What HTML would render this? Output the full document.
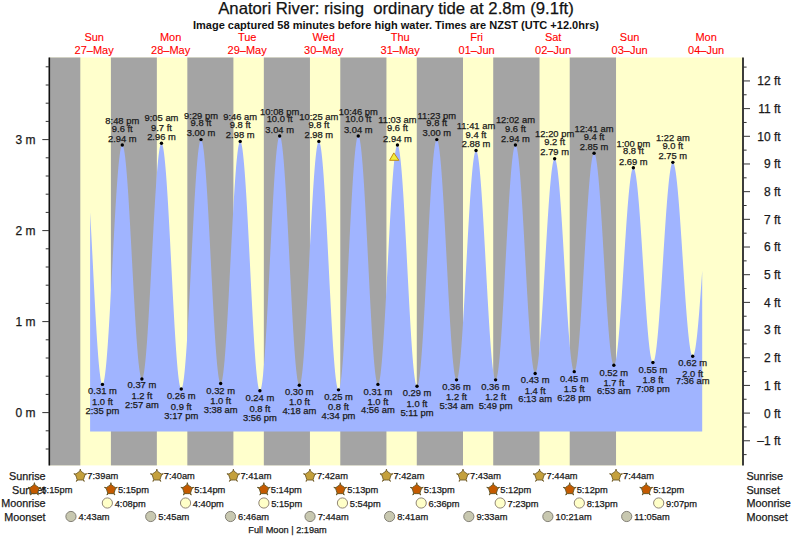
<!DOCTYPE html>
<html><head><meta charset="utf-8"><style>
html,body{margin:0;padding:0;background:#fff;width:793px;height:539px;overflow:hidden}
svg{display:block}
text{font-family:"Liberation Sans",sans-serif;fill:#1a1a1a;stroke:#1a1a1a;stroke-width:0.25px}
.day{stroke:#f00;stroke-width:0.1px}
.tl{font-size:9.4px;text-anchor:middle}
.ax{font-size:12px}
.day{font-size:11px;fill:#f00;text-anchor:middle}
.title{white-space:pre;font-size:16.72px;text-anchor:middle;fill:#111}
.sub{font-size:11px;font-weight:bold;text-anchor:middle;fill:#111;stroke-width:0}
.rl{font-size:10.8px}
.ti{font-size:9.3px}
</style></head><body>
<svg width="793" height="539" viewBox="0 0 793 539">
<rect x="49.3" y="57.5" width="693.7" height="407.9" fill="#ffffcc"/>
<rect x="49.30" y="57.5" width="31.00" height="407.9" fill="#a4a4a4"/>
<rect x="110.90" y="57.5" width="45.95" height="407.9" fill="#a4a4a4"/>
<rect x="187.34" y="57.5" width="46.06" height="407.9" fill="#a4a4a4"/>
<rect x="263.84" y="57.5" width="46.11" height="407.9" fill="#a4a4a4"/>
<rect x="340.28" y="57.5" width="46.16" height="407.9" fill="#a4a4a4"/>
<rect x="416.78" y="57.5" width="46.22" height="407.9" fill="#a4a4a4"/>
<rect x="493.22" y="57.5" width="46.32" height="407.9" fill="#a4a4a4"/>
<rect x="569.71" y="57.5" width="46.32" height="407.9" fill="#a4a4a4"/>
<path d="M90.10,431.4 L90.10,212.33 L90.60,221.19 L91.10,230.36 L91.60,239.78 L92.10,249.38 L92.60,259.11 L93.10,268.88 L93.60,278.64 L94.10,288.31 L94.60,297.84 L95.10,307.15 L95.60,316.18 L96.10,324.87 L96.60,333.15 L97.10,340.98 L97.60,348.30 L98.10,355.05 L98.60,361.20 L99.10,366.69 L99.60,371.49 L100.10,375.58 L100.60,378.91 L101.10,381.47 L101.60,383.23 L102.10,384.20 L102.60,384.35 L103.10,383.75 L103.60,382.39 L104.10,380.30 L104.60,377.49 L105.10,373.96 L105.60,369.76 L106.10,364.89 L106.60,359.40 L107.10,353.31 L107.60,346.67 L108.10,339.51 L108.60,331.88 L109.10,323.84 L109.60,315.42 L110.10,306.69 L110.60,297.69 L111.10,288.48 L111.60,279.13 L112.10,269.68 L112.60,260.21 L113.10,250.76 L113.60,241.40 L114.10,232.19 L114.60,223.18 L115.10,214.43 L115.60,206.00 L116.10,197.93 L116.60,190.29 L117.10,183.11 L117.60,176.44 L118.10,170.33 L118.60,164.80 L119.10,159.91 L119.60,155.67 L120.10,152.11 L120.60,149.26 L121.10,147.14 L121.60,145.75 L122.10,145.11 L122.60,145.22 L123.10,146.07 L123.60,147.67 L124.10,150.00 L124.60,153.05 L125.10,156.79 L125.60,161.21 L126.10,166.28 L126.60,171.96 L127.10,178.21 L127.60,185.01 L128.10,192.29 L128.60,200.02 L129.10,208.15 L129.60,216.63 L130.10,225.39 L130.60,234.39 L131.10,243.57 L131.60,252.86 L132.10,262.21 L132.60,271.56 L133.10,280.85 L133.60,290.02 L134.10,299.01 L134.60,307.76 L135.10,316.22 L135.60,324.33 L136.10,332.05 L136.60,339.31 L137.10,346.08 L137.60,352.31 L138.10,357.96 L138.60,363.00 L139.10,367.38 L139.60,371.10 L140.10,374.11 L140.60,376.41 L141.10,377.98 L141.60,378.80 L142.10,378.87 L142.60,378.18 L143.10,376.74 L143.60,374.56 L144.10,371.65 L144.60,368.02 L145.10,363.70 L145.60,358.73 L146.10,353.12 L146.60,346.92 L147.10,340.17 L147.60,332.91 L148.10,325.19 L148.60,317.05 L149.10,308.55 L149.60,299.75 L150.10,290.70 L150.60,281.46 L151.10,272.08 L151.60,262.64 L152.10,253.19 L152.60,243.78 L153.10,234.49 L153.60,225.37 L154.10,216.48 L154.60,207.88 L155.10,199.61 L155.60,191.75 L156.10,184.33 L156.60,177.41 L157.10,171.02 L157.60,165.22 L158.10,160.03 L158.60,155.50 L159.10,151.64 L159.60,148.49 L160.10,146.06 L160.60,144.38 L161.10,143.44 L161.60,143.27 L162.10,143.86 L162.60,145.23 L163.10,147.36 L163.60,150.23 L164.10,153.84 L164.60,158.15 L165.10,163.14 L165.60,168.79 L166.10,175.04 L166.60,181.87 L167.10,189.23 L167.60,197.08 L168.10,205.36 L168.60,214.02 L169.10,223.01 L169.60,232.28 L170.10,241.75 L170.60,251.38 L171.10,261.10 L171.60,270.86 L172.10,280.58 L172.60,290.21 L173.10,299.69 L173.60,308.96 L174.10,317.96 L174.60,326.63 L175.10,334.92 L175.60,342.77 L176.10,350.15 L176.60,356.99 L177.10,363.26 L177.60,368.91 L178.10,373.92 L178.60,378.25 L179.10,381.88 L179.60,384.77 L180.10,386.91 L180.60,388.29 L181.10,388.91 L181.60,388.74 L182.10,387.79 L182.60,386.07 L183.10,383.57 L183.60,380.32 L184.10,376.35 L184.60,371.66 L185.10,366.30 L185.60,360.29 L186.10,353.68 L186.60,346.51 L187.10,338.82 L187.60,330.66 L188.10,322.08 L188.60,313.13 L189.10,303.88 L189.60,294.37 L190.10,284.68 L190.60,274.86 L191.10,264.97 L191.60,255.08 L192.10,245.25 L192.60,235.53 L193.10,226.00 L193.60,216.71 L194.10,207.72 L194.60,199.08 L195.10,190.86 L195.60,183.09 L196.10,175.84 L196.60,169.15 L197.10,163.06 L197.60,157.60 L198.10,152.82 L198.60,148.74 L199.10,145.38 L199.60,142.78 L200.10,140.94 L200.60,139.88 L201.10,139.61 L201.60,140.12 L202.10,141.40 L202.60,143.45 L203.10,146.27 L203.60,149.81 L204.10,154.08 L204.60,159.03 L205.10,164.64 L205.60,170.87 L206.10,177.69 L206.60,185.03 L207.10,192.87 L207.60,201.15 L208.10,209.82 L208.60,218.82 L209.10,228.09 L209.60,237.57 L210.10,247.21 L210.60,256.94 L211.10,266.70 L211.60,276.43 L212.10,286.06 L212.60,295.53 L213.10,304.79 L213.60,313.77 L214.10,322.41 L214.60,330.67 L215.10,338.48 L215.60,345.80 L216.10,352.58 L216.60,358.78 L217.10,364.35 L217.60,369.26 L218.10,373.49 L218.60,377.00 L219.10,379.76 L219.60,381.77 L220.10,383.01 L220.60,383.48 L221.10,383.16 L221.60,382.06 L222.10,380.20 L222.60,377.57 L223.10,374.21 L223.60,370.12 L224.10,365.34 L224.60,359.90 L225.10,353.83 L225.60,347.17 L226.10,339.97 L226.60,332.26 L227.10,324.11 L227.60,315.56 L228.10,306.67 L228.60,297.49 L229.10,288.09 L229.60,278.52 L230.10,268.85 L230.60,259.14 L231.10,249.44 L231.60,239.84 L232.10,230.38 L232.60,221.12 L233.10,212.13 L233.60,203.47 L234.10,195.18 L234.60,187.33 L235.10,179.96 L235.60,173.13 L236.10,166.86 L236.60,161.22 L237.10,156.22 L237.60,151.92 L238.10,148.32 L238.60,145.46 L239.10,143.35 L239.60,142.01 L240.10,141.44 L240.60,141.66 L241.10,142.67 L241.60,144.47 L242.10,147.04 L242.60,150.37 L243.10,154.44 L243.60,159.21 L244.10,164.67 L244.60,170.78 L245.10,177.49 L245.60,184.77 L246.10,192.57 L246.60,200.83 L247.10,209.51 L247.60,218.55 L248.10,227.90 L248.60,237.49 L249.10,247.25 L249.60,257.14 L250.10,267.09 L250.60,277.03 L251.10,286.90 L251.60,296.64 L252.10,306.18 L252.60,315.47 L253.10,324.44 L253.60,333.04 L254.10,341.22 L254.60,348.91 L255.10,356.08 L255.60,362.68 L256.10,368.66 L256.60,373.98 L257.10,378.62 L257.60,382.54 L258.10,385.72 L258.60,388.14 L259.10,389.78 L259.60,390.63 L260.10,390.69 L260.60,389.94 L261.10,388.40 L261.60,386.07 L262.10,382.97 L262.60,379.11 L263.10,374.52 L263.60,369.24 L264.10,363.28 L264.60,356.70 L265.10,349.52 L265.60,341.81 L266.10,333.60 L266.60,324.94 L267.10,315.90 L267.60,306.53 L268.10,296.88 L268.60,287.03 L269.10,277.02 L269.60,266.93 L270.10,256.82 L270.60,246.74 L271.10,236.78 L271.60,226.97 L272.10,217.40 L272.60,208.12 L273.10,199.19 L273.60,190.66 L274.10,182.59 L274.60,175.03 L275.10,168.02 L275.60,161.62 L276.10,155.86 L276.60,150.77 L277.10,146.40 L277.60,142.76 L278.10,139.88 L278.60,137.78 L279.10,136.48 L279.60,135.97 L280.10,136.26 L280.60,137.34 L281.10,139.21 L281.60,141.86 L282.10,145.26 L282.60,149.39 L283.10,154.24 L283.60,159.76 L284.10,165.92 L284.60,172.69 L285.10,180.02 L285.60,187.86 L286.10,196.17 L286.60,204.88 L287.10,213.95 L287.60,223.32 L288.10,232.93 L288.60,242.71 L289.10,252.61 L289.60,262.56 L290.10,272.49 L290.60,282.36 L291.10,292.08 L291.60,301.60 L292.10,310.86 L292.60,319.80 L293.10,328.36 L293.60,336.50 L294.10,344.14 L294.60,351.26 L295.10,357.80 L295.60,363.72 L296.10,368.98 L296.60,373.56 L297.10,377.41 L297.60,380.52 L298.10,382.86 L298.60,384.43 L299.10,385.21 L299.60,385.19 L300.10,384.39 L300.60,382.80 L301.10,380.44 L301.60,377.32 L302.10,373.46 L302.60,368.89 L303.10,363.63 L303.60,357.73 L304.10,351.21 L304.60,344.13 L305.10,336.52 L305.60,328.44 L306.10,319.94 L306.60,311.07 L307.10,301.89 L307.60,292.46 L308.10,282.85 L308.60,273.10 L309.10,263.30 L309.60,253.49 L310.10,243.75 L310.60,234.14 L311.10,224.71 L311.60,215.54 L312.10,206.68 L312.60,198.18 L313.10,190.10 L313.60,182.50 L314.10,175.42 L314.60,168.92 L315.10,163.02 L315.60,157.77 L316.10,153.21 L316.60,149.36 L317.10,146.25 L317.60,143.90 L318.10,142.32 L318.60,141.52 L319.10,141.52 L319.60,142.31 L320.10,143.88 L320.60,146.24 L321.10,149.37 L321.60,153.24 L322.10,157.82 L322.60,163.10 L323.10,169.04 L323.60,175.59 L324.10,182.73 L324.60,190.39 L325.10,198.53 L325.60,207.11 L326.10,216.06 L326.60,225.33 L327.10,234.85 L327.60,244.57 L328.10,254.43 L328.60,264.36 L329.10,274.30 L329.60,284.18 L330.10,293.94 L330.60,303.53 L331.10,312.86 L331.60,321.90 L332.10,330.58 L332.60,338.84 L333.10,346.63 L333.60,353.90 L334.10,360.61 L334.60,366.71 L335.10,372.16 L335.60,376.93 L336.10,380.98 L336.60,384.30 L337.10,386.85 L337.60,388.63 L338.10,389.63 L338.60,389.82 L339.10,389.22 L339.60,387.83 L340.10,385.64 L340.60,382.68 L341.10,378.97 L341.60,374.52 L342.10,369.38 L342.60,363.56 L343.10,357.10 L343.60,350.05 L344.10,342.46 L344.60,334.36 L345.10,325.81 L345.60,316.86 L346.10,307.58 L346.60,298.01 L347.10,288.22 L347.60,278.27 L348.10,268.23 L348.60,258.15 L349.10,248.10 L349.60,238.15 L350.10,228.35 L350.60,218.77 L351.10,209.46 L351.60,200.50 L352.10,191.92 L352.60,183.80 L353.10,176.17 L353.60,169.09 L354.10,162.60 L354.60,156.75 L355.10,151.56 L355.60,147.07 L356.10,143.32 L356.60,140.32 L357.10,138.09 L357.60,136.64 L358.10,136.00 L358.60,136.15 L359.10,137.09 L359.60,138.82 L360.10,141.32 L360.60,144.57 L361.10,148.57 L361.60,153.27 L362.10,158.66 L362.60,164.69 L363.10,171.33 L363.60,178.54 L364.10,186.27 L364.60,194.46 L365.10,203.08 L365.60,212.06 L366.10,221.35 L366.60,230.88 L367.10,240.60 L367.60,250.45 L368.10,260.36 L368.60,270.26 L369.10,280.11 L369.60,289.82 L370.10,299.35 L370.60,308.62 L371.10,317.59 L371.60,326.19 L372.10,334.38 L372.60,342.09 L373.10,349.27 L373.60,355.89 L374.10,361.90 L374.60,367.26 L375.10,371.94 L375.60,375.91 L376.10,379.14 L376.60,381.61 L377.10,383.31 L377.60,384.22 L378.10,384.34 L378.60,383.69 L379.10,382.26 L379.60,380.08 L380.10,377.15 L380.60,373.48 L381.10,369.12 L381.60,364.08 L382.10,358.39 L382.60,352.10 L383.10,345.24 L383.60,337.87 L384.10,330.01 L384.60,321.74 L385.10,313.09 L385.60,304.14 L386.10,294.92 L386.60,285.51 L387.10,275.97 L387.60,266.36 L388.10,256.73 L388.60,247.15 L389.10,237.69 L389.60,228.41 L390.10,219.36 L390.60,210.60 L391.10,202.19 L391.60,194.19 L392.10,186.65 L392.60,179.61 L393.10,173.12 L393.60,167.23 L394.10,161.96 L394.60,157.37 L395.10,153.46 L395.60,150.28 L396.10,147.84 L396.60,146.16 L397.10,145.24 L397.60,145.10 L398.10,145.73 L398.60,147.14 L399.10,149.31 L399.60,152.23 L400.10,155.88 L400.60,160.23 L401.10,165.27 L401.60,170.95 L402.10,177.24 L402.60,184.10 L403.10,191.49 L403.60,199.35 L404.10,207.64 L404.60,216.31 L405.10,225.29 L405.60,234.53 L406.10,243.97 L406.60,253.55 L407.10,263.21 L407.60,272.89 L408.10,282.51 L408.60,292.03 L409.10,301.38 L409.60,310.50 L410.10,319.33 L410.60,327.82 L411.10,335.90 L411.60,343.53 L412.10,350.66 L412.60,357.24 L413.10,363.24 L413.60,368.60 L414.10,373.30 L414.60,377.30 L415.10,380.59 L415.60,383.14 L416.10,384.93 L416.60,385.95 L417.10,386.20 L417.60,385.67 L418.10,384.36 L418.60,382.29 L419.10,379.47 L419.60,375.91 L420.10,371.64 L420.60,366.69 L421.10,361.08 L421.60,354.85 L422.10,348.05 L422.60,340.70 L423.10,332.87 L423.60,324.59 L424.10,315.93 L424.60,306.93 L425.10,297.65 L425.60,288.16 L426.10,278.51 L426.60,268.75 L427.10,258.96 L427.60,249.20 L428.10,239.52 L428.60,229.99 L429.10,220.67 L429.60,211.61 L430.10,202.88 L430.60,194.52 L431.10,186.60 L431.60,179.15 L432.10,172.24 L432.60,165.90 L433.10,160.16 L433.60,155.08 L434.10,150.67 L434.60,146.98 L435.10,144.01 L435.60,141.79 L436.10,140.34 L436.60,139.66 L437.10,139.75 L437.60,140.60 L438.10,142.21 L438.60,144.56 L439.10,147.65 L439.60,151.44 L440.10,155.92 L440.60,161.06 L441.10,166.82 L441.60,173.17 L442.10,180.07 L442.60,187.47 L443.10,195.34 L443.60,203.61 L444.10,212.23 L444.60,221.16 L445.10,230.33 L445.60,239.69 L446.10,249.17 L446.60,258.73 L447.10,268.28 L447.60,277.79 L448.10,287.18 L448.60,296.39 L449.10,305.37 L449.60,314.07 L450.10,322.41 L450.60,330.37 L451.10,337.87 L451.60,344.88 L452.10,351.35 L452.60,357.24 L453.10,362.51 L453.60,367.12 L454.10,371.06 L454.60,374.30 L455.10,376.80 L455.60,378.57 L456.10,379.58 L456.60,379.83 L457.10,379.33 L457.60,378.10 L458.10,376.13 L458.60,373.44 L459.10,370.06 L459.60,365.99 L460.10,361.27 L460.60,355.93 L461.10,350.00 L461.60,343.52 L462.10,336.54 L462.60,329.09 L463.10,321.23 L463.60,313.00 L464.10,304.47 L464.60,295.68 L465.10,286.69 L465.60,277.57 L466.10,268.36 L466.60,259.13 L467.10,249.95 L467.60,240.86 L468.10,231.93 L468.60,223.21 L469.10,214.77 L469.60,206.65 L470.10,198.91 L470.60,191.60 L471.10,184.77 L471.60,178.46 L472.10,172.71 L472.60,167.56 L473.10,163.04 L473.60,159.18 L474.10,156.01 L474.60,153.54 L475.10,151.80 L475.60,150.79 L476.10,150.53 L476.60,151.00 L477.10,152.21 L477.60,154.15 L478.10,156.80 L478.60,160.15 L479.10,164.17 L479.60,168.85 L480.10,174.15 L480.60,180.03 L481.10,186.46 L481.60,193.40 L482.10,200.81 L482.60,208.62 L483.10,216.80 L483.60,225.29 L484.10,234.04 L484.60,242.99 L485.10,252.08 L485.60,261.26 L486.10,270.46 L486.60,279.63 L487.10,288.71 L487.60,297.63 L488.10,306.34 L488.60,314.79 L489.10,322.92 L489.60,330.68 L490.10,338.02 L490.60,344.88 L491.10,351.24 L491.60,357.03 L492.10,362.24 L492.60,366.82 L493.10,370.75 L493.60,374.00 L494.10,376.55 L494.60,378.38 L495.10,379.48 L495.60,379.84 L496.10,379.47 L496.60,378.36 L497.10,376.53 L497.60,373.98 L498.10,370.73 L498.60,366.80 L499.10,362.22 L499.60,357.02 L500.10,351.22 L500.60,344.86 L501.10,337.99 L501.60,330.64 L502.10,322.87 L502.60,314.72 L503.10,306.24 L503.60,297.48 L504.10,288.51 L504.60,279.37 L505.10,270.12 L505.60,260.83 L506.10,251.55 L506.60,242.34 L507.10,233.25 L507.60,224.35 L508.10,215.68 L508.60,207.31 L509.10,199.28 L509.60,191.65 L510.10,184.47 L510.60,177.77 L511.10,171.60 L511.60,166.00 L512.10,161.01 L512.60,156.66 L513.10,152.96 L513.60,149.96 L514.10,147.65 L514.60,146.07 L515.10,145.22 L515.60,145.10 L516.10,145.71 L516.60,147.04 L517.10,149.08 L517.60,151.81 L518.10,155.23 L518.60,159.31 L519.10,164.02 L519.60,169.34 L520.10,175.22 L520.60,181.64 L521.10,188.55 L521.60,195.90 L522.10,203.66 L522.60,211.77 L523.10,220.19 L523.60,228.85 L524.10,237.70 L524.60,246.69 L525.10,255.76 L525.60,264.85 L526.10,273.90 L526.60,282.87 L527.10,291.68 L527.60,300.29 L528.10,308.64 L528.60,316.67 L529.10,324.34 L529.60,331.60 L530.10,338.40 L530.60,344.70 L531.10,350.46 L531.60,355.64 L532.10,360.21 L532.60,364.14 L533.10,367.40 L533.60,369.98 L534.10,371.86 L534.60,373.02 L535.10,373.47 L535.60,373.20 L536.10,372.23 L536.60,370.58 L537.10,368.26 L537.60,365.27 L538.10,361.64 L538.60,357.39 L539.10,352.54 L539.60,347.14 L540.10,341.22 L540.60,334.80 L541.10,327.95 L541.60,320.69 L542.10,313.08 L542.60,305.16 L543.10,296.99 L543.60,288.62 L544.10,280.11 L544.60,271.50 L545.10,262.86 L545.60,254.24 L546.10,245.70 L546.60,237.29 L547.10,229.06 L547.60,221.08 L548.10,213.38 L548.60,206.03 L549.10,199.07 L549.60,192.54 L550.10,186.49 L550.60,180.95 L551.10,175.96 L551.60,171.56 L552.10,167.77 L552.60,164.62 L553.10,162.12 L553.60,160.30 L554.10,159.16 L554.60,158.72 L555.10,158.96 L555.60,159.89 L556.10,161.50 L556.60,163.78 L557.10,166.71 L557.60,170.27 L558.10,174.45 L558.60,179.21 L559.10,184.52 L559.60,190.35 L560.10,196.67 L560.60,203.43 L561.10,210.58 L561.60,218.09 L562.10,225.89 L562.60,233.96 L563.10,242.22 L563.60,250.63 L564.10,259.13 L564.60,267.68 L565.10,276.21 L565.60,284.66 L566.10,292.99 L566.60,301.15 L567.10,309.07 L567.60,316.70 L568.10,324.01 L568.60,330.94 L569.10,337.44 L569.60,343.48 L570.10,349.01 L570.60,354.00 L571.10,358.43 L571.60,362.25 L572.10,365.44 L572.60,367.99 L573.10,369.88 L573.60,371.09 L574.10,371.62 L574.60,371.47 L575.10,370.63 L575.60,369.12 L576.10,366.93 L576.60,364.09 L577.10,360.61 L577.60,356.52 L578.10,351.84 L578.60,346.60 L579.10,340.83 L579.60,334.57 L580.10,327.85 L580.60,320.73 L581.10,313.24 L581.60,305.43 L582.10,297.35 L582.60,289.06 L583.10,280.60 L583.60,272.02 L584.10,263.38 L584.60,254.74 L585.10,246.15 L585.60,237.65 L586.10,229.32 L586.60,221.19 L587.10,213.32 L587.60,205.76 L588.10,198.55 L588.60,191.75 L589.10,185.38 L589.60,179.50 L590.10,174.14 L590.60,169.34 L591.10,165.12 L591.60,161.50 L592.10,158.53 L592.60,156.20 L593.10,154.54 L593.60,153.55 L594.10,153.25 L594.60,153.62 L595.10,154.66 L595.60,156.36 L596.10,158.71 L596.60,161.69 L597.10,165.29 L597.60,169.48 L598.10,174.23 L598.60,179.52 L599.10,185.32 L599.60,191.57 L600.10,198.26 L600.60,205.33 L601.10,212.74 L601.60,220.45 L602.10,228.39 L602.60,236.54 L603.10,244.82 L603.60,253.20 L604.10,261.62 L604.60,270.02 L605.10,278.35 L605.60,286.56 L606.10,294.60 L606.60,302.42 L607.10,309.97 L607.60,317.19 L608.10,324.05 L608.60,330.51 L609.10,336.51 L609.60,342.03 L610.10,347.02 L610.60,351.46 L611.10,355.33 L611.60,358.58 L612.10,361.21 L612.60,363.20 L613.10,364.53 L613.60,365.20 L614.10,365.20 L614.60,364.56 L615.10,363.29 L615.60,361.39 L616.10,358.87 L616.60,355.76 L617.10,352.07 L617.60,347.83 L618.10,343.06 L618.60,337.79 L619.10,332.07 L619.60,325.92 L620.10,319.38 L620.60,312.50 L621.10,305.33 L621.60,297.90 L622.10,290.27 L622.60,282.49 L623.10,274.60 L623.60,266.66 L624.10,258.72 L624.60,250.83 L625.10,243.05 L625.60,235.41 L626.10,227.98 L626.60,220.79 L627.10,213.91 L627.60,207.36 L628.10,201.20 L628.60,195.46 L629.10,190.18 L629.60,185.39 L630.10,181.13 L630.60,177.43 L631.10,174.30 L631.60,171.77 L632.10,169.85 L632.60,168.56 L633.10,167.90 L633.60,167.88 L634.10,168.49 L634.60,169.72 L635.10,171.57 L635.60,174.02 L636.10,177.05 L636.60,180.66 L637.10,184.81 L637.60,189.47 L638.10,194.63 L638.60,200.23 L639.10,206.26 L639.60,212.67 L640.10,219.41 L640.60,226.45 L641.10,233.74 L641.60,241.23 L642.10,248.88 L642.60,256.63 L643.10,264.43 L643.60,272.24 L644.10,280.01 L644.60,287.68 L645.10,295.20 L645.60,302.53 L646.10,309.62 L646.60,316.43 L647.10,322.90 L647.60,329.00 L648.10,334.69 L648.60,339.94 L649.10,344.70 L649.60,348.95 L650.10,352.66 L650.60,355.81 L651.10,358.37 L651.60,360.33 L652.10,361.68 L652.60,362.41 L653.10,362.51 L653.60,361.99 L654.10,360.85 L654.60,359.09 L655.10,356.73 L655.60,353.79 L656.10,350.27 L656.60,346.20 L657.10,341.62 L657.60,336.54 L658.10,330.99 L658.60,325.02 L659.10,318.66 L659.60,311.95 L660.10,304.93 L660.60,297.65 L661.10,290.15 L661.60,282.47 L662.10,274.67 L662.60,266.79 L663.10,258.89 L663.60,251.00 L664.10,243.19 L664.60,235.50 L665.10,227.98 L665.60,220.67 L666.10,213.62 L666.60,206.88 L667.10,200.48 L667.60,194.47 L668.10,188.89 L668.60,183.76 L669.10,179.12 L669.60,175.01 L670.10,171.43 L670.60,168.43 L671.10,166.01 L671.60,164.20 L672.10,162.99 L672.60,162.41 L673.10,162.45 L673.60,163.09 L674.10,164.33 L674.60,166.17 L675.10,168.58 L675.60,171.56 L676.10,175.09 L676.60,179.14 L677.10,183.69 L677.60,188.72 L678.10,194.18 L678.60,200.05 L679.10,206.29 L679.60,212.86 L680.10,219.72 L680.60,226.82 L681.10,234.13 L681.60,241.59 L682.10,249.17 L682.60,256.80 L683.10,264.46 L683.60,272.08 L684.10,279.62 L684.60,287.03 L685.10,294.27 L685.60,301.29 L686.10,308.05 L686.60,314.51 L687.10,320.62 L687.60,326.35 L688.10,331.66 L688.60,336.52 L689.10,340.89 L689.60,344.76 L690.10,348.10 L690.60,350.88 L691.10,353.09 L691.60,354.71 L692.10,355.74 L692.60,356.17 L693.10,356.00 L693.60,355.26 L694.10,353.95 L694.60,352.08 L695.10,349.67 L695.60,346.72 L696.10,343.26 L696.60,339.31 L697.10,334.88 L697.60,330.02 L698.10,324.75 L698.60,319.11 L699.10,313.13 L699.60,306.84 L700.10,300.29 L700.60,293.52 L701.10,286.57 L701.60,279.48 L702.10,272.31 L702.2,270.87 L702.2,431.4Z" fill="#a0b4ff"/>
<line x1="49.3" y1="57.5" x2="49.3" y2="465.4" stroke="#111" stroke-width="1.6"/>
<line x1="743.0" y1="57.5" x2="743.0" y2="465.4" stroke="#333" stroke-width="1.9"/>
<line x1="45.7" y1="449.00" x2="49.3" y2="449.00" stroke="#333" stroke-width="1"/>
<line x1="45.7" y1="430.80" x2="49.3" y2="430.80" stroke="#333" stroke-width="1"/>
<line x1="42.3" y1="412.60" x2="49.3" y2="412.60" stroke="#333" stroke-width="1"/>
<text x="35.5" y="417.00" text-anchor="end" class="ax">0 m</text>
<line x1="45.7" y1="394.40" x2="49.3" y2="394.40" stroke="#333" stroke-width="1"/>
<line x1="45.7" y1="376.20" x2="49.3" y2="376.20" stroke="#333" stroke-width="1"/>
<line x1="45.7" y1="358.00" x2="49.3" y2="358.00" stroke="#333" stroke-width="1"/>
<line x1="45.7" y1="339.80" x2="49.3" y2="339.80" stroke="#333" stroke-width="1"/>
<line x1="42.3" y1="321.60" x2="49.3" y2="321.60" stroke="#333" stroke-width="1"/>
<text x="35.5" y="326.00" text-anchor="end" class="ax">1 m</text>
<line x1="45.7" y1="303.40" x2="49.3" y2="303.40" stroke="#333" stroke-width="1"/>
<line x1="45.7" y1="285.20" x2="49.3" y2="285.20" stroke="#333" stroke-width="1"/>
<line x1="45.7" y1="267.00" x2="49.3" y2="267.00" stroke="#333" stroke-width="1"/>
<line x1="45.7" y1="248.80" x2="49.3" y2="248.80" stroke="#333" stroke-width="1"/>
<line x1="42.3" y1="230.60" x2="49.3" y2="230.60" stroke="#333" stroke-width="1"/>
<text x="35.5" y="235.00" text-anchor="end" class="ax">2 m</text>
<line x1="45.7" y1="212.40" x2="49.3" y2="212.40" stroke="#333" stroke-width="1"/>
<line x1="45.7" y1="194.20" x2="49.3" y2="194.20" stroke="#333" stroke-width="1"/>
<line x1="45.7" y1="176.00" x2="49.3" y2="176.00" stroke="#333" stroke-width="1"/>
<line x1="45.7" y1="157.80" x2="49.3" y2="157.80" stroke="#333" stroke-width="1"/>
<line x1="42.3" y1="139.60" x2="49.3" y2="139.60" stroke="#333" stroke-width="1"/>
<text x="35.5" y="144.00" text-anchor="end" class="ax">3 m</text>
<line x1="45.7" y1="121.40" x2="49.3" y2="121.40" stroke="#333" stroke-width="1"/>
<line x1="45.7" y1="103.20" x2="49.3" y2="103.20" stroke="#333" stroke-width="1"/>
<line x1="45.7" y1="85.00" x2="49.3" y2="85.00" stroke="#333" stroke-width="1"/>
<line x1="45.7" y1="66.80" x2="49.3" y2="66.80" stroke="#333" stroke-width="1"/>
<line x1="743.0" y1="454.62" x2="746.6" y2="454.62" stroke="#333" stroke-width="1"/>
<line x1="743.0" y1="440.78" x2="750.0" y2="440.78" stroke="#333" stroke-width="1"/>
<text x="780.7" y="445.18" text-anchor="end" class="ax">–1 ft</text>
<line x1="743.0" y1="426.94" x2="746.6" y2="426.94" stroke="#333" stroke-width="1"/>
<line x1="743.0" y1="413.10" x2="750.0" y2="413.10" stroke="#333" stroke-width="1"/>
<text x="780.7" y="417.50" text-anchor="end" class="ax">0 ft</text>
<line x1="743.0" y1="399.26" x2="746.6" y2="399.26" stroke="#333" stroke-width="1"/>
<line x1="743.0" y1="385.42" x2="750.0" y2="385.42" stroke="#333" stroke-width="1"/>
<text x="780.7" y="389.82" text-anchor="end" class="ax">1 ft</text>
<line x1="743.0" y1="371.58" x2="746.6" y2="371.58" stroke="#333" stroke-width="1"/>
<line x1="743.0" y1="357.74" x2="750.0" y2="357.74" stroke="#333" stroke-width="1"/>
<text x="780.7" y="362.14" text-anchor="end" class="ax">2 ft</text>
<line x1="743.0" y1="343.90" x2="746.6" y2="343.90" stroke="#333" stroke-width="1"/>
<line x1="743.0" y1="330.06" x2="750.0" y2="330.06" stroke="#333" stroke-width="1"/>
<text x="780.7" y="334.46" text-anchor="end" class="ax">3 ft</text>
<line x1="743.0" y1="316.22" x2="746.6" y2="316.22" stroke="#333" stroke-width="1"/>
<line x1="743.0" y1="302.38" x2="750.0" y2="302.38" stroke="#333" stroke-width="1"/>
<text x="780.7" y="306.78" text-anchor="end" class="ax">4 ft</text>
<line x1="743.0" y1="288.54" x2="746.6" y2="288.54" stroke="#333" stroke-width="1"/>
<line x1="743.0" y1="274.70" x2="750.0" y2="274.70" stroke="#333" stroke-width="1"/>
<text x="780.7" y="279.10" text-anchor="end" class="ax">5 ft</text>
<line x1="743.0" y1="260.86" x2="746.6" y2="260.86" stroke="#333" stroke-width="1"/>
<line x1="743.0" y1="247.02" x2="750.0" y2="247.02" stroke="#333" stroke-width="1"/>
<text x="780.7" y="251.42" text-anchor="end" class="ax">6 ft</text>
<line x1="743.0" y1="233.18" x2="746.6" y2="233.18" stroke="#333" stroke-width="1"/>
<line x1="743.0" y1="219.34" x2="750.0" y2="219.34" stroke="#333" stroke-width="1"/>
<text x="780.7" y="223.74" text-anchor="end" class="ax">7 ft</text>
<line x1="743.0" y1="205.50" x2="746.6" y2="205.50" stroke="#333" stroke-width="1"/>
<line x1="743.0" y1="191.66" x2="750.0" y2="191.66" stroke="#333" stroke-width="1"/>
<text x="780.7" y="196.06" text-anchor="end" class="ax">8 ft</text>
<line x1="743.0" y1="177.82" x2="746.6" y2="177.82" stroke="#333" stroke-width="1"/>
<line x1="743.0" y1="163.98" x2="750.0" y2="163.98" stroke="#333" stroke-width="1"/>
<text x="780.7" y="168.38" text-anchor="end" class="ax">9 ft</text>
<line x1="743.0" y1="150.14" x2="746.6" y2="150.14" stroke="#333" stroke-width="1"/>
<line x1="743.0" y1="136.30" x2="750.0" y2="136.30" stroke="#333" stroke-width="1"/>
<text x="780.7" y="140.70" text-anchor="end" class="ax">10 ft</text>
<line x1="743.0" y1="122.46" x2="746.6" y2="122.46" stroke="#333" stroke-width="1"/>
<line x1="743.0" y1="108.62" x2="750.0" y2="108.62" stroke="#333" stroke-width="1"/>
<text x="780.7" y="113.02" text-anchor="end" class="ax">11 ft</text>
<line x1="743.0" y1="94.78" x2="746.6" y2="94.78" stroke="#333" stroke-width="1"/>
<line x1="743.0" y1="80.94" x2="750.0" y2="80.94" stroke="#333" stroke-width="1"/>
<text x="780.7" y="85.34" text-anchor="end" class="ax">12 ft</text>
<line x1="743.0" y1="67.10" x2="746.6" y2="67.10" stroke="#333" stroke-width="1"/>
<circle cx="122.28" cy="145.06" r="1.7" fill="#000"/>
<text x="122.28" y="141.76" class="tl">2.94 m</text>
<text x="122.28" y="131.86" class="tl">9.6 ft</text>
<text x="122.28" y="124.36" class="tl">8:48 pm</text>
<circle cx="161.47" cy="143.24" r="1.7" fill="#000"/>
<text x="161.47" y="139.94" class="tl">2.96 m</text>
<text x="161.47" y="130.54" class="tl">9.7 ft</text>
<text x="161.47" y="121.34" class="tl">9:05 am</text>
<circle cx="201.03" cy="139.60" r="1.7" fill="#000"/>
<text x="201.03" y="136.30" class="tl">3.00 m</text>
<text x="201.03" y="126.40" class="tl">9.8 ft</text>
<text x="201.03" y="119.40" class="tl">9:29 pm</text>
<circle cx="240.21" cy="141.42" r="1.7" fill="#000"/>
<text x="240.21" y="138.12" class="tl">2.98 m</text>
<text x="240.21" y="128.42" class="tl">9.8 ft</text>
<text x="240.21" y="119.72" class="tl">9:46 am</text>
<circle cx="279.67" cy="135.96" r="1.7" fill="#000"/>
<text x="279.67" y="132.66" class="tl">3.04 m</text>
<text x="279.67" y="122.06" class="tl">10.0 ft</text>
<text x="279.67" y="115.06" class="tl">10:08 pm</text>
<circle cx="318.85" cy="141.42" r="1.7" fill="#000"/>
<text x="318.85" y="138.12" class="tl">2.98 m</text>
<text x="318.85" y="128.22" class="tl">9.8 ft</text>
<text x="318.85" y="119.52" class="tl">10:25 am</text>
<circle cx="358.25" cy="135.96" r="1.7" fill="#000"/>
<text x="358.25" y="132.66" class="tl">3.04 m</text>
<text x="358.25" y="122.06" class="tl">10.0 ft</text>
<text x="358.25" y="115.06" class="tl">10:46 pm</text>
<circle cx="397.44" cy="145.06" r="1.7" fill="#000"/>
<text x="397.44" y="141.76" class="tl">2.94 m</text>
<text x="397.44" y="131.36" class="tl">9.6 ft</text>
<text x="397.44" y="122.86" class="tl">11:03 am</text>
<circle cx="436.79" cy="139.60" r="1.7" fill="#000"/>
<text x="436.79" y="136.30" class="tl">3.00 m</text>
<text x="436.79" y="126.40" class="tl">9.8 ft</text>
<text x="436.79" y="119.40" class="tl">11:23 pm</text>
<circle cx="476.03" cy="150.52" r="1.7" fill="#000"/>
<text x="476.03" y="147.22" class="tl">2.88 m</text>
<text x="476.03" y="137.82" class="tl">9.4 ft</text>
<text x="476.03" y="128.62" class="tl">11:41 am</text>
<circle cx="515.43" cy="145.06" r="1.7" fill="#000"/>
<text x="515.43" y="141.76" class="tl">2.94 m</text>
<text x="515.43" y="131.86" class="tl">9.6 ft</text>
<text x="515.43" y="122.86" class="tl">12:02 am</text>
<circle cx="554.67" cy="158.71" r="1.7" fill="#000"/>
<text x="554.67" y="155.41" class="tl">2.79 m</text>
<text x="554.67" y="145.01" class="tl">9.2 ft</text>
<text x="554.67" y="136.51" class="tl">12:20 pm</text>
<circle cx="594.07" cy="153.25" r="1.7" fill="#000"/>
<text x="594.07" y="149.95" class="tl">2.85 m</text>
<text x="594.07" y="139.75" class="tl">9.4 ft</text>
<text x="594.07" y="131.55" class="tl">12:41 am</text>
<circle cx="633.36" cy="167.81" r="1.7" fill="#000"/>
<text x="633.36" y="164.51" class="tl">2.69 m</text>
<text x="633.36" y="153.71" class="tl">8.8 ft</text>
<text x="633.36" y="146.61" class="tl">1:00 pm</text>
<circle cx="672.82" cy="162.35" r="1.7" fill="#000"/>
<text x="672.82" y="159.05" class="tl">2.75 m</text>
<text x="672.82" y="148.85" class="tl">9.0 ft</text>
<text x="672.82" y="140.65" class="tl">1:22 am</text>
<circle cx="102.45" cy="384.39" r="1.7" fill="#000"/>
<text x="102.45" y="393.99" class="tl">0.31 m</text>
<text x="102.45" y="404.59" class="tl">1.0 ft</text>
<text x="102.45" y="413.89" class="tl">2:35 pm</text>
<circle cx="141.90" cy="378.93" r="1.7" fill="#000"/>
<text x="141.90" y="388.23" class="tl">0.37 m</text>
<text x="141.90" y="399.43" class="tl">1.2 ft</text>
<text x="141.90" y="408.43" class="tl">2:57 am</text>
<circle cx="181.25" cy="388.94" r="1.7" fill="#000"/>
<text x="181.25" y="398.54" class="tl">0.26 m</text>
<text x="181.25" y="409.89" class="tl">0.9 ft</text>
<text x="181.25" y="419.19" class="tl">3:17 pm</text>
<circle cx="220.65" cy="383.48" r="1.7" fill="#000"/>
<text x="220.65" y="393.53" class="tl">0.32 m</text>
<text x="220.65" y="404.43" class="tl">1.0 ft</text>
<text x="220.65" y="412.53" class="tl">3:38 am</text>
<circle cx="259.89" cy="390.76" r="1.7" fill="#000"/>
<text x="259.89" y="401.11" class="tl">0.24 m</text>
<text x="259.89" y="411.71" class="tl">0.8 ft</text>
<text x="259.89" y="420.71" class="tl">3:56 pm</text>
<circle cx="299.34" cy="385.30" r="1.7" fill="#000"/>
<text x="299.34" y="395.20" class="tl">0.30 m</text>
<text x="299.34" y="405.05" class="tl">1.0 ft</text>
<text x="299.34" y="413.80" class="tl">4:18 am</text>
<circle cx="338.47" cy="389.85" r="1.7" fill="#000"/>
<text x="338.47" y="400.20" class="tl">0.25 m</text>
<text x="338.47" y="410.35" class="tl">0.8 ft</text>
<text x="338.47" y="419.35" class="tl">4:34 pm</text>
<circle cx="377.93" cy="384.39" r="1.7" fill="#000"/>
<text x="377.93" y="394.59" class="tl">0.31 m</text>
<text x="377.93" y="404.59" class="tl">1.0 ft</text>
<text x="377.93" y="413.29" class="tl">4:56 am</text>
<circle cx="417.01" cy="386.21" r="1.7" fill="#000"/>
<text x="417.01" y="396.21" class="tl">0.29 m</text>
<text x="417.01" y="407.01" class="tl">1.0 ft</text>
<text x="417.01" y="415.71" class="tl">5:11 pm</text>
<circle cx="456.52" cy="379.84" r="1.7" fill="#000"/>
<text x="456.52" y="389.84" class="tl">0.36 m</text>
<text x="456.52" y="400.04" class="tl">1.2 ft</text>
<text x="456.52" y="408.94" class="tl">5:34 am</text>
<circle cx="495.60" cy="379.84" r="1.7" fill="#000"/>
<text x="495.60" y="389.84" class="tl">0.36 m</text>
<text x="495.60" y="400.04" class="tl">1.2 ft</text>
<text x="495.60" y="408.94" class="tl">5:49 pm</text>
<circle cx="535.16" cy="373.47" r="1.7" fill="#000"/>
<text x="535.16" y="383.07" class="tl">0.43 m</text>
<text x="535.16" y="393.67" class="tl">1.4 ft</text>
<text x="535.16" y="402.27" class="tl">6:13 am</text>
<circle cx="574.24" cy="371.65" r="1.7" fill="#000"/>
<text x="574.24" y="381.75" class="tl">0.45 m</text>
<text x="574.24" y="392.35" class="tl">1.5 ft</text>
<text x="574.24" y="401.15" class="tl">6:28 pm</text>
<circle cx="613.85" cy="365.28" r="1.7" fill="#000"/>
<text x="613.85" y="375.58" class="tl">0.52 m</text>
<text x="613.85" y="386.48" class="tl">1.7 ft</text>
<text x="613.85" y="394.08" class="tl">6:53 am</text>
<circle cx="652.93" cy="362.55" r="1.7" fill="#000"/>
<text x="652.93" y="372.65" class="tl">0.55 m</text>
<text x="652.93" y="382.75" class="tl">1.8 ft</text>
<text x="652.93" y="392.05" class="tl">7:08 pm</text>
<circle cx="692.70" cy="356.18" r="1.7" fill="#000"/>
<text x="692.70" y="365.78" class="tl">0.62 m</text>
<text x="692.70" y="377.08" class="tl">2.0 ft</text>
<text x="692.70" y="384.28" class="tl">7:36 am</text>
<path d="M393.8,152.9 L389.6,160.3 L398.9,160.3 Z" fill="#f2ee3c" stroke="#c08a10" stroke-width="1" stroke-linejoin="round"/>
<text x="94.17" y="40.9" class="day">Sun</text>
<text x="94.17" y="54.2" class="day">27–May</text>
<text x="170.66" y="40.9" class="day">Mon</text>
<text x="170.66" y="54.2" class="day">28–May</text>
<text x="247.16" y="40.9" class="day">Tue</text>
<text x="247.16" y="54.2" class="day">29–May</text>
<text x="323.65" y="40.9" class="day">Wed</text>
<text x="323.65" y="54.2" class="day">30–May</text>
<text x="400.15" y="40.9" class="day">Thu</text>
<text x="400.15" y="54.2" class="day">31–May</text>
<text x="476.64" y="40.9" class="day">Fri</text>
<text x="476.64" y="54.2" class="day">01–Jun</text>
<text x="553.14" y="40.9" class="day">Sat</text>
<text x="553.14" y="54.2" class="day">02–Jun</text>
<text x="629.63" y="40.9" class="day">Sun</text>
<text x="629.63" y="54.2" class="day">03–Jun</text>
<text x="706.13" y="40.9" class="day">Mon</text>
<text x="706.13" y="54.2" class="day">04–Jun</text>
<text x="396" y="14.2" class="title" xml:space="preserve">Anatori River: rising  ordinary tide at 2.8m (9.1ft)</text>
<text x="396" y="28.5" class="sub">Image captured 58 minutes before high water. Times are NZST (UTC +12.0hrs)</text>
<text x="45.6" y="479.7" class="rl" text-anchor="end">Sunrise</text>
<text x="746.4" y="479.7" class="rl">Sunrise</text>
<text x="45.6" y="493.8" class="rl" text-anchor="end">Sunset</text>
<text x="746.4" y="493.8" class="rl">Sunset</text>
<text x="45.6" y="507.2" class="rl" text-anchor="end">Moonrise</text>
<text x="746.4" y="507.2" class="rl">Moonrise</text>
<text x="45.6" y="520.6" class="rl" text-anchor="end">Moonset</text>
<text x="746.4" y="520.6" class="rl">Moonset</text>
<path d="M80.30,469.10 L80.79,471.15 L82.73,472.56 L84.67,473.97 L86.77,473.80 L84.97,474.89 L84.23,477.17 L83.49,479.46 L84.30,481.40 L82.70,480.03 L80.30,480.03 L77.90,480.03 L76.31,481.40 L77.12,479.46 L76.38,477.17 L75.64,474.89 L73.84,473.80 L75.94,473.97 L77.88,472.56 L79.82,471.15Z" fill="#c4a03c" stroke="#6e5a28" stroke-width="0.9"/>
<text x="87.30" y="479.0" class="ti">7:39am</text>
<path d="M156.85,469.10 L157.34,471.15 L159.28,472.56 L161.22,473.97 L163.32,473.80 L161.52,474.89 L160.78,477.17 L160.03,479.46 L160.85,481.40 L159.25,480.03 L156.85,480.03 L154.45,480.03 L152.85,481.40 L153.67,479.46 L152.93,477.17 L152.19,474.89 L150.38,473.80 L152.49,473.97 L154.43,472.56 L156.37,471.15Z" fill="#c4a03c" stroke="#6e5a28" stroke-width="0.9"/>
<text x="163.85" y="479.0" class="ti">7:40am</text>
<path d="M233.40,469.10 L233.88,471.15 L235.82,472.56 L237.76,473.97 L239.87,473.80 L238.06,474.89 L237.32,477.17 L236.58,479.46 L237.40,481.40 L235.80,480.03 L233.40,480.03 L231.00,480.03 L229.40,481.40 L230.22,479.46 L229.48,477.17 L228.73,474.89 L226.93,473.80 L229.03,473.97 L230.97,472.56 L232.91,471.15Z" fill="#c4a03c" stroke="#6e5a28" stroke-width="0.9"/>
<text x="240.40" y="479.0" class="ti">7:41am</text>
<path d="M309.95,469.10 L310.43,471.15 L312.37,472.56 L314.31,473.97 L316.41,473.80 L314.61,474.89 L313.87,477.17 L313.13,479.46 L313.94,481.40 L312.35,480.03 L309.95,480.03 L307.55,480.03 L305.95,481.40 L306.76,479.46 L306.02,477.17 L305.28,474.89 L303.48,473.80 L305.58,473.97 L307.52,472.56 L309.46,471.15Z" fill="#c4a03c" stroke="#6e5a28" stroke-width="0.9"/>
<text x="316.95" y="479.0" class="ti">7:42am</text>
<path d="M386.44,469.10 L386.93,471.15 L388.87,472.56 L390.81,473.97 L392.91,473.80 L391.11,474.89 L390.37,477.17 L389.63,479.46 L390.44,481.40 L388.84,480.03 L386.44,480.03 L384.04,480.03 L382.45,481.40 L383.26,479.46 L382.52,477.17 L381.78,474.89 L379.98,473.80 L382.08,473.97 L384.02,472.56 L385.96,471.15Z" fill="#c4a03c" stroke="#6e5a28" stroke-width="0.9"/>
<text x="393.44" y="479.0" class="ti">7:42am</text>
<path d="M462.99,469.10 L463.48,471.15 L465.42,472.56 L467.36,473.97 L469.46,473.80 L467.66,474.89 L466.92,477.17 L466.17,479.46 L466.99,481.40 L465.39,480.03 L462.99,480.03 L460.59,480.03 L458.99,481.40 L459.81,479.46 L459.07,477.17 L458.33,474.89 L456.52,473.80 L458.63,473.97 L460.57,472.56 L462.51,471.15Z" fill="#c4a03c" stroke="#6e5a28" stroke-width="0.9"/>
<text x="469.99" y="479.0" class="ti">7:43am</text>
<path d="M539.54,469.10 L540.02,471.15 L541.96,472.56 L543.91,473.97 L546.01,473.80 L544.20,474.89 L543.46,477.17 L542.72,479.46 L543.54,481.40 L541.94,480.03 L539.54,480.03 L537.14,480.03 L535.54,481.40 L536.36,479.46 L535.62,477.17 L534.87,474.89 L533.07,473.80 L535.17,473.97 L537.11,472.56 L539.05,471.15Z" fill="#c4a03c" stroke="#6e5a28" stroke-width="0.9"/>
<text x="546.54" y="479.0" class="ti">7:44am</text>
<path d="M616.03,469.10 L616.52,471.15 L618.46,472.56 L620.40,473.97 L622.50,473.80 L620.70,474.89 L619.96,477.17 L619.22,479.46 L620.03,481.40 L618.43,480.03 L616.03,480.03 L613.64,480.03 L612.04,481.40 L612.85,479.46 L612.11,477.17 L611.37,474.89 L609.57,473.80 L611.67,473.97 L613.61,472.56 L615.55,471.15Z" fill="#c4a03c" stroke="#6e5a28" stroke-width="0.9"/>
<text x="623.03" y="479.0" class="ti">7:44am</text>
<path d="M34.41,482.70 L34.89,484.75 L36.83,486.16 L38.77,487.57 L40.87,487.40 L39.07,488.49 L38.33,490.77 L37.59,493.06 L38.40,495.00 L36.80,493.63 L34.41,493.63 L32.01,493.63 L30.41,495.00 L31.22,493.06 L30.48,490.77 L29.74,488.49 L27.94,487.40 L30.04,487.57 L31.98,486.16 L33.92,484.75Z" fill="#c45a00" stroke="#5e5424" stroke-width="0.9"/>
<text x="41.41" y="493.0" class="ti">5:15pm</text>
<path d="M110.90,482.70 L111.39,484.75 L113.33,486.16 L115.27,487.57 L117.37,487.40 L115.57,488.49 L114.82,490.77 L114.08,493.06 L114.90,495.00 L113.30,493.63 L110.90,493.63 L108.50,493.63 L106.90,495.00 L107.72,493.06 L106.98,490.77 L106.24,488.49 L104.43,487.40 L106.54,487.57 L108.48,486.16 L110.42,484.75Z" fill="#c45a00" stroke="#5e5424" stroke-width="0.9"/>
<text x="117.90" y="493.0" class="ti">5:15pm</text>
<path d="M187.34,482.70 L187.83,484.75 L189.77,486.16 L191.71,487.57 L193.81,487.40 L192.01,488.49 L191.27,490.77 L190.53,493.06 L191.34,495.00 L189.74,493.63 L187.34,493.63 L184.94,493.63 L183.35,495.00 L184.16,493.06 L183.42,490.77 L182.68,488.49 L180.88,487.40 L182.98,487.57 L184.92,486.16 L186.86,484.75Z" fill="#c45a00" stroke="#5e5424" stroke-width="0.9"/>
<text x="194.34" y="493.0" class="ti">5:14pm</text>
<path d="M263.84,482.70 L264.32,484.75 L266.26,486.16 L268.20,487.57 L270.31,487.40 L268.50,488.49 L267.76,490.77 L267.02,493.06 L267.84,495.00 L266.24,493.63 L263.84,493.63 L261.44,493.63 L259.84,495.00 L260.66,493.06 L259.91,490.77 L259.17,488.49 L257.37,487.40 L259.47,487.57 L261.41,486.16 L263.35,484.75Z" fill="#c45a00" stroke="#5e5424" stroke-width="0.9"/>
<text x="270.84" y="493.0" class="ti">5:14pm</text>
<path d="M340.28,482.70 L340.77,484.75 L342.71,486.16 L344.65,487.57 L346.75,487.40 L344.95,488.49 L344.20,490.77 L343.46,493.06 L344.28,495.00 L342.68,493.63 L340.28,493.63 L337.88,493.63 L336.28,495.00 L337.10,493.06 L336.36,490.77 L335.62,488.49 L333.81,487.40 L335.91,487.57 L337.86,486.16 L339.80,484.75Z" fill="#c45a00" stroke="#5e5424" stroke-width="0.9"/>
<text x="347.28" y="493.0" class="ti">5:13pm</text>
<path d="M416.78,482.70 L417.26,484.75 L419.20,486.16 L421.14,487.57 L423.24,487.40 L421.44,488.49 L420.70,490.77 L419.96,493.06 L420.77,495.00 L419.17,493.63 L416.78,493.63 L414.38,493.63 L412.78,495.00 L413.59,493.06 L412.85,490.77 L412.11,488.49 L410.31,487.40 L412.41,487.57 L414.35,486.16 L416.29,484.75Z" fill="#c45a00" stroke="#5e5424" stroke-width="0.9"/>
<text x="423.78" y="493.0" class="ti">5:13pm</text>
<path d="M493.22,482.70 L493.70,484.75 L495.64,486.16 L497.58,487.57 L499.68,487.40 L497.88,488.49 L497.14,490.77 L496.40,493.06 L497.21,495.00 L495.62,493.63 L493.22,493.63 L490.82,493.63 L489.22,495.00 L490.03,493.06 L489.29,490.77 L488.55,488.49 L486.75,487.40 L488.85,487.57 L490.79,486.16 L492.73,484.75Z" fill="#c45a00" stroke="#5e5424" stroke-width="0.9"/>
<text x="500.22" y="493.0" class="ti">5:12pm</text>
<path d="M569.71,482.70 L570.20,484.75 L572.14,486.16 L574.08,487.57 L576.18,487.40 L574.38,488.49 L573.64,490.77 L572.90,493.06 L573.71,495.00 L572.11,493.63 L569.71,493.63 L567.31,493.63 L565.72,495.00 L566.53,493.06 L565.79,490.77 L565.05,488.49 L563.25,487.40 L565.35,487.57 L567.29,486.16 L569.23,484.75Z" fill="#c45a00" stroke="#5e5424" stroke-width="0.9"/>
<text x="576.71" y="493.0" class="ti">5:12pm</text>
<path d="M646.21,482.70 L646.69,484.75 L648.63,486.16 L650.57,487.57 L652.68,487.40 L650.87,488.49 L650.13,490.77 L649.39,493.06 L650.20,495.00 L648.61,493.63 L646.21,493.63 L643.81,493.63 L642.21,495.00 L643.02,493.06 L642.28,490.77 L641.54,488.49 L639.74,487.40 L641.84,487.57 L643.78,486.16 L645.72,484.75Z" fill="#c45a00" stroke="#5e5424" stroke-width="0.9"/>
<text x="653.21" y="493.0" class="ti">5:12pm</text>
<circle cx="107.34" cy="503.0" r="5.1" fill="#ffffc8" stroke="#85786a" stroke-width="0.9"/>
<text x="114.64" y="507.1" class="ti">4:08pm</text>
<circle cx="185.54" cy="503.0" r="5.1" fill="#ffffc8" stroke="#85786a" stroke-width="0.9"/>
<text x="192.84" y="507.1" class="ti">4:40pm</text>
<circle cx="263.89" cy="503.0" r="5.1" fill="#ffffc8" stroke="#85786a" stroke-width="0.9"/>
<text x="271.19" y="507.1" class="ti">5:15pm</text>
<circle cx="342.46" cy="503.0" r="5.1" fill="#ffffc8" stroke="#85786a" stroke-width="0.9"/>
<text x="349.76" y="507.1" class="ti">5:54pm</text>
<circle cx="421.18" cy="503.0" r="5.1" fill="#ffffc8" stroke="#85786a" stroke-width="0.9"/>
<text x="428.48" y="507.1" class="ti">6:36pm</text>
<circle cx="500.18" cy="503.0" r="5.1" fill="#ffffc8" stroke="#85786a" stroke-width="0.9"/>
<text x="507.48" y="507.1" class="ti">7:23pm</text>
<circle cx="579.33" cy="503.0" r="5.1" fill="#ffffc8" stroke="#85786a" stroke-width="0.9"/>
<text x="586.63" y="507.1" class="ti">8:13pm</text>
<circle cx="658.69" cy="503.0" r="5.1" fill="#ffffc8" stroke="#85786a" stroke-width="0.9"/>
<text x="665.99" y="507.1" class="ti">9:07pm</text>
<circle cx="70.95" cy="516.5" r="5.1" fill="#c8c8b0" stroke="#77746a" stroke-width="0.9"/>
<text x="78.55" y="520.3" class="ti">4:43am</text>
<circle cx="150.74" cy="516.5" r="5.1" fill="#c8c8b0" stroke="#77746a" stroke-width="0.9"/>
<text x="158.34" y="520.3" class="ti">5:45am</text>
<circle cx="230.48" cy="516.5" r="5.1" fill="#c8c8b0" stroke="#77746a" stroke-width="0.9"/>
<text x="238.08" y="520.3" class="ti">6:46am</text>
<circle cx="310.05" cy="516.5" r="5.1" fill="#c8c8b0" stroke="#77746a" stroke-width="0.9"/>
<text x="317.65" y="520.3" class="ti">7:44am</text>
<circle cx="389.58" cy="516.5" r="5.1" fill="#c8c8b0" stroke="#77746a" stroke-width="0.9"/>
<text x="397.18" y="520.3" class="ti">8:41am</text>
<circle cx="468.83" cy="516.5" r="5.1" fill="#c8c8b0" stroke="#77746a" stroke-width="0.9"/>
<text x="476.43" y="520.3" class="ti">9:33am</text>
<circle cx="547.88" cy="516.5" r="5.1" fill="#c8c8b0" stroke="#77746a" stroke-width="0.9"/>
<text x="555.48" y="520.3" class="ti">10:21am</text>
<circle cx="626.71" cy="516.5" r="5.1" fill="#c8c8b0" stroke="#77746a" stroke-width="0.9"/>
<text x="634.31" y="520.3" class="ti">11:05am</text>
<text x="248.3" y="532.9" class="ti" style="font-size:9.2px" xml:space="preserve">Full Moon | 2:19am</text>
</svg></body></html>
